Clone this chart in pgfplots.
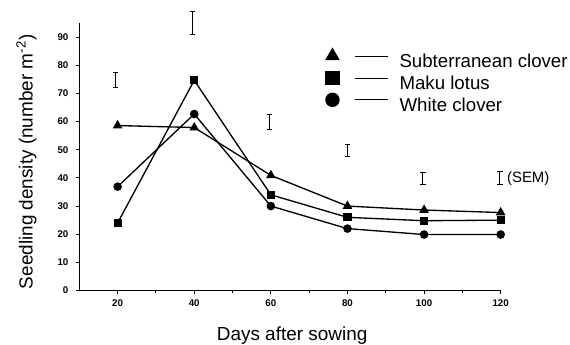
\documentclass[border=0pt]{standalone}
\usepackage{fontspec}
\setmainfont{Liberation Sans}
\usepackage{pgfplots}
\pgfplotsset{compat=1.18}
\begin{document}
\begin{tikzpicture}
\path[use as bounding box] (-59.5pt,-40.1pt) rectangle (368pt,217.9pt);
\begin{axis}[
  at={(0pt,0pt)}, anchor=south west,
  scale only axis, width=316pt, height=200.6pt,
  xmin=10, xmax=120, ymin=0, ymax=95,
  clip=false,
  axis lines=left,
  axis line style={-, line width=0.8pt},
  xtick={20,40,...,120}, ytick={0,10,...,90},
  minor xtick={30,50,...,110},
  tick align=outside, major tick length=2.5pt, minor tick length=1.8pt,
  every tick/.style={black, line width=0.7pt},
  ticklabel style={font=\fontsize{7.3}{8}\selectfont\bfseries},
  yticklabel style={anchor=east, inner sep=0pt, xshift=-5.5pt},
  /pgf/number format/assume math mode=true,
  xticklabel style={yshift=-1pt},
  xlabel={Days after sowing},
  ylabel={Seedling density (number m\textsuperscript{-2})},
  xlabel style={at={(axis description cs:0.505,-0.185)}, anchor=base, font=\fontsize{14.2}{17}\selectfont},
  ylabel style={at={(axis description cs:-0.111,0.481)}, anchor=base, font=\fontsize{14.2}{17}\selectfont},
  legend style={draw=none, fill=none, at={(axis description cs:0.584,0.905)}, anchor=north west,
    inner sep=0pt, row sep=-2pt, font=\fontsize{14}{17}\selectfont,
    nodes={text height=10.5pt, text depth=3pt, inner ysep=1.7pt, inner xsep=2pt}},
  legend cell align=left,
  /tikz/every odd column/.append style={column sep=6pt},
]
\addplot[black, line width=1pt, mark=triangle*, mark size=3.2pt,
  legend image code/.code={\draw[black, fill=black, mark=triangle*, mark size=5.4pt] plot coordinates {(0pt,5pt)}; \draw[black, line width=0.6pt] (17pt,5pt) -- (42pt,5pt);}]
  coordinates {(20,58.6) (40,57.9) (60,40.9) (80,30) (100,28.6) (120,27.7)};
\addlegendentry{Subterranean clover}
\addplot[black, line width=1pt, mark=square*, mark size=2.6pt,
  legend image code/.code={\draw[black, fill=black, mark=square*, mark size=5.1pt] plot coordinates {(0pt,5pt)}; \draw[black, line width=0.6pt] (17pt,5pt) -- (42pt,5pt);}]
  coordinates {(20,24) (40,74.7) (60,34) (80,26) (100,24.8) (120,25)};
\addlegendentry{Maku lotus}
\addplot[black, line width=1pt, mark=*, mark size=2.7pt,
  legend image code/.code={\draw[black, fill=black, mark=*, mark size=4.9pt] plot coordinates {(0pt,5pt)}; \draw[black, line width=0.6pt] (17pt,5pt) -- (42pt,5pt);}]
  coordinates {(20,36.9) (40,62.7) (60,30) (80,22) (100,19.9) (120,19.9)};
\addlegendentry{White clover}
\addplot[draw=none, mark=none, forget plot,
  error bars/.cd, y dir=both, y explicit,
  error bar style={draw=black, solid, line width=0.8pt},
  error mark options={draw=black, solid, line width=0.8pt, mark size=2pt, rotate=90}]
  coordinates {
    (19.4,74.75) +- (0,2.65)
    (39.5,95) +- (0,4.1)
    (59.6,59.8) +- (0,2.7)
    (80,49.65) +- (0,2.15)
    (99.7,39.65) +- (0,2.15)
    (119.8,39.9) +- (0,2.4)
  };
\node[anchor=west, inner sep=0pt, font=\fontsize{11.2}{13}\selectfont] at (axis cs:121.6,39.9) {(SEM)};
\end{axis}
\end{tikzpicture}
\end{document}
